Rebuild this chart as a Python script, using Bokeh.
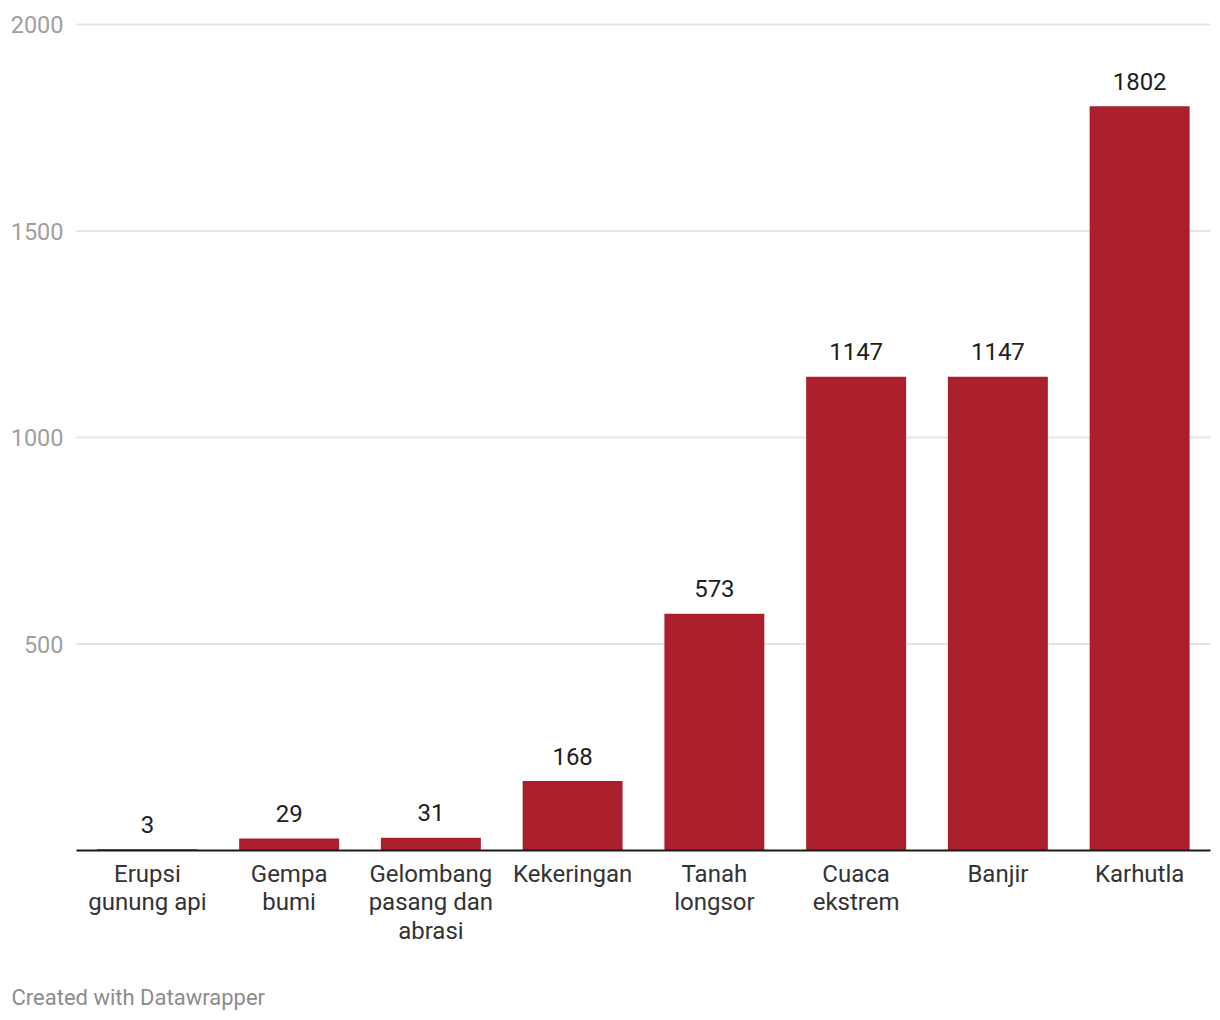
from bokeh.plotting import figure
from bokeh.models import Range1d
from bokeh.core.properties import value
from bokeh.embed import file_html
from bokeh.resources import INLINE

categories = ["Erupsi\ngunung api", "Gempa\nbumi", "Gelombang\npasang dan\nabrasi",
              "Kekeringan", "Tanah\nlongsor", "Cuaca\nekstrem", "Banjir", "Karhutla"]
values = [3, 29, 31, 168, 573, 1147, 1147, 1802]
y_ticks = [500, 1000, 1500, 2000]
y_tick_labels = ["500", "1000", "1500", "2000"]

W, H = 1220, 1020
left_px, right_px = 76, 1210
base_px, top_px = 850, 24
n = len(categories)
xs = (right_px - left_px) / n          # px per category
ys = (base_px - top_px) / 2000.0       # px per unit

x0 = -left_px / xs
x1 = n + (W - right_px) / xs
y1 = base_px / ys
y0 = -(H - base_px) / ys

FONT = value("Roboto")

p = figure(width=W, height=H, output_backend="svg", toolbar_location=None,
           x_range=Range1d(x0, x1), y_range=Range1d(y0, y1),
           min_border=0, min_border_left=0, min_border_right=0,
           min_border_top=0, min_border_bottom=0)
p.axis.visible = False
p.grid.visible = False
p.outline_line_color = None
p.background_fill_color = "white"
p.border_fill_color = "white"

# gridlines
p.segment(x0=[0] * len(y_ticks), x1=[n] * len(y_ticks), y0=y_ticks, y1=y_ticks,
          line_color="#e5e5e5", line_width=2)
# tick labels
p.text(x=[(63 - left_px) / xs] * len(y_ticks), y=y_ticks, text=y_tick_labels,
       text_font=FONT, text_font_size="23.5px", text_color="#a0a0a0",
       text_align="right", text_baseline="middle")

centers = [i + 0.5 for i in range(n)]
p.vbar(x=centers, top=values, bottom=0, width=0.705, fill_color="#ab1e2c", line_color=None)

# baseline
p.segment(x0=[0], x1=[n], y0=[0], y1=[0], line_color="#1a1a1a", line_width=2)

# value labels
p.text(x=centers, y=[v + 25 / ys for v in values], text=[str(v) for v in values],
       text_font=FONT, text_font_size="24px", text_color="#1d1d1d",
       text_align="center", text_baseline="middle")

# category labels
p.text(x=centers, y=[-9 / ys] * n, text=categories,
       text_font=FONT, text_font_size="24px", text_color="#333333",
       text_align="center", text_baseline="top", text_line_height=1.03)

# footer
p.text(x=[(11 - left_px) / xs], y=[-(997 - base_px) / ys], text=["Created with Datawrapper"],
       text_font=FONT, text_font_size="22px", text_color="#8c8c8c",
       text_align="left", text_baseline="middle")

open("out.html", "w").write(file_html(p, INLINE))
